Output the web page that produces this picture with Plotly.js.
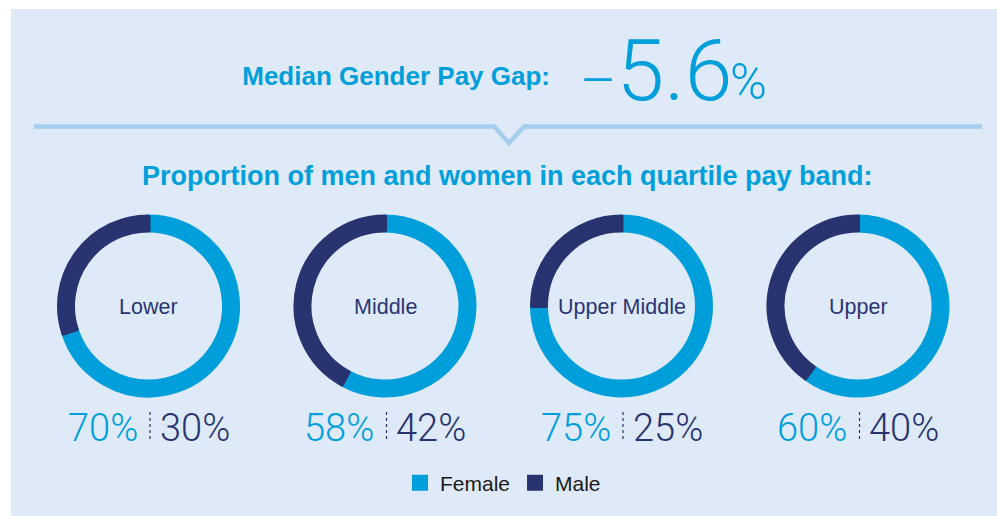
<!DOCTYPE html>
<html>
<head>
<meta charset="utf-8">
<script src="https://cdn.plot.ly/plotly-3.0.1.min.js"></script>
<style>html,body{margin:0;padding:0;background:#fff;}#chart{width:997px;height:516px;}</style>
</head>
<body>
<div id="chart"></div>
<script>
// ---- data ----
const bands = ["Lower", "Middle", "Upper Middle", "Upper"];
const genders = ["Female", "Male"];
const femalePct = [70, 58, 75, 60];
const malePct = [30, 42, 25, 40];
const headline = "Median Gender Pay Gap:";
const payGapSign = "–";
const payGapNumber = "5.6";
const subtitle = "Proportion of men and women in each quartile pay band:";

// ---- styling ----
const W = 997, H = 516;
const FEMALE = "#009fdb", MALE = "#27346f", TEXT_NAVY = "#2b3673";
const px = x => x / W;
const py = y => 1 - y / H;
const centersX = [148.5, 385, 621.5, 858];
const centerY = 306;
const R = 89.5;

const traces = bands.map((b, i) => ({
  type: "pie",
  labels: genders,
  values: [femalePct[i], malePct[i]],
  name: b,
  hole: 0.8436,
  sort: false,
  direction: "clockwise",
  rotation: 0,
  textinfo: "none",
  hoverinfo: "label+percent",
  marker: {colors: [FEMALE, MALE], line: {color: [FEMALE, MALE], width: 4}},
  domain: {x: [px(centersX[i] - R), px(centersX[i] + R)], y: [py(centerY + R), py(centerY - R)]},
  showlegend: i === 0
}));

const annotations = [];
bands.forEach((b, i) => {
  annotations.push({
    xref: "paper", yref: "paper", x: px(centersX[i]), y: py(centerY + 1),
    xanchor: "center", yanchor: "middle", showarrow: false, text: b,
    font: {family: "Liberation Sans, Arial, sans-serif", size: 21.5, color: TEXT_NAVY}
  });
  annotations.push({
    xref: "paper", yref: "paper", x: px(centersX[i] - 9), y: py(428),
    xanchor: "right", yanchor: "middle", showarrow: false, text: femalePct[i] + "%",
    font: {family: "Roboto, sans-serif", size: 38, weight: 300, color: FEMALE}
  });
  annotations.push({
    xref: "paper", yref: "paper", x: px(centersX[i] + 9), y: py(428),
    xanchor: "left", yanchor: "middle", showarrow: false, text: malePct[i] + "%",
    font: {family: "Roboto, sans-serif", size: 38, weight: 300, color: MALE}
  });
});
annotations.push({
  xref: "paper", yref: "paper", x: px(578), y: py(70),
  xanchor: "left", yanchor: "middle", showarrow: false,
  text: "<span style='font-size:56px'>" + payGapSign + "</span>" + payGapNumber,
  font: {family: "Roboto, sans-serif", size: 86, weight: 300, color: FEMALE}
});
annotations.push({
  xref: "paper", yref: "paper", x: px(728), y: py(82),
  xanchor: "left", yanchor: "middle", showarrow: false, text: "%",
  font: {family: "Roboto, sans-serif", size: 50, weight: 300, color: FEMALE}
});
annotations.push({
  xref: "paper", yref: "paper", x: px(508), y: py(176.5),
  xanchor: "center", yanchor: "middle", showarrow: false, text: subtitle,
  font: {family: "Liberation Sans, Arial, sans-serif", size: 27, weight: 700, color: FEMALE}
});

const shapes = [
  {type: "rect", xref: "paper", yref: "paper", x0: px(11), x1: 1.01, y0: -0.01, y1: py(9),
   fillcolor: "#dfeaf8", line: {width: 0}, layer: "below"},
  {type: "path", xref: "paper", yref: "paper",
   path: `M${px(34)},${py(126.5)} L${px(494)},${py(126.5)} L${px(509)},${py(143)} L${px(524)},${py(126.5)} L${px(982)},${py(126.5)}`,
   line: {color: "#a5cdee", width: 4.5}, fillcolor: "rgba(0,0,0,0)", layer: "below"}
];
centersX.forEach(cx => {
  shapes.push({type: "line", xref: "paper", yref: "paper", x0: px(cx + 1.5), x1: px(cx + 1.5), y0: py(412), y1: py(442),
    line: {color: MALE, width: 1.2, dash: "dot"}});
});

const layout = {
  width: W, height: H,
  margin: {l: 0, r: 0, t: 0, b: 0},
  paper_bgcolor: "#ffffff",
  plot_bgcolor: "rgba(0,0,0,0)",
  title: {
    text: headline, xref: "container", yref: "container",
    x: px(550), xanchor: "right", y: py(75.5), yanchor: "middle",
    font: {family: "Liberation Sans, Arial, sans-serif", size: 26, weight: 700, color: FEMALE}
  },
  showlegend: true,
  legend: {
    orientation: "h", x: px(503), xanchor: "center", y: py(483), yanchor: "middle",
    font: {family: "Liberation Sans, Arial, sans-serif", size: 21, color: "#1a1a1a"},
    bgcolor: "rgba(0,0,0,0)", traceorder: "normal"
  },
  annotations: annotations,
  shapes: shapes
};

Plotly.newPlot("chart", traces, layout, {displayModeBar: false, staticPlot: true});
</script>
</body>
</html>
